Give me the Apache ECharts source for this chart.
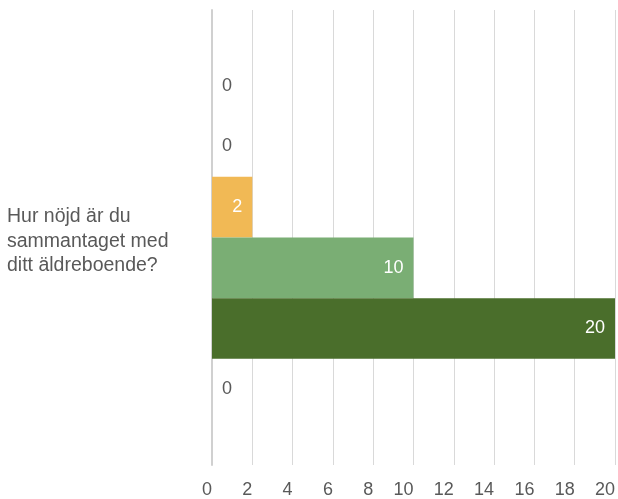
<!DOCTYPE html>
<html>
<head>
<meta charset="utf-8">
<script src="https://cdn.jsdelivr.net/npm/echarts@6/dist/echarts.min.js"></script>
<style>html,body{margin:0;padding:0;background:#fff;overflow:hidden}#c{width:618px;height:499px}</style>
</head>
<body>
<div id="c"></div>
<script>
const categories = ["Hur nöjd är du\nsammantaget med\nditt äldreboende?"];
const seriesNames = ["S1", "S2", "S3", "S4", "S5", "S6"];
const seriesValues = [[0], [0], [2], [10], [20], [0]];
const seriesColors = ["#4472C4", "#ED7D31", "#F1B955", "#7AAE74", "#4A6E2B", "#A5A5A5"];
const xTicks = [0, 2, 4, 6, 8, 10, 12, 14, 16, 18, 20];

const chart = echarts.init(document.getElementById('c'), null, {renderer: 'canvas', width: 618, height: 499});
const font = 'Liberation Sans, Arial, sans-serif';
const series = seriesNames.map((n, i) => ({
  name: n,
  type: 'bar',
  data: seriesValues[i],
  barGap: '0%',
  barCategoryGap: '20%',
  itemStyle: {color: seriesColors[i]},
  label: {
    show: true,
    position: seriesValues[i][0] === 0 ? 'right' : 'insideRight',
    distance: 10,
    color: seriesValues[i][0] === 0 ? '#595959' : '#ffffff',
    fontSize: 18,
    fontFamily: font
  }
}));
chart.setOption({
  animation: false,
  grid: {left: 212, right: 0, top: 10, bottom: 32, containLabel: false},
  xAxis: {
    type: 'value',
    min: xTicks[0],
    max: xTicks[xTicks.length - 1],
    interval: 2,
    axisLine: {show: false},
    axisTick: {show: false},
    splitLine: {lineStyle: {color: '#d9d9d9', width: 1}},
    axisLabel: {color: '#595959', fontSize: 18, fontFamily: font, align: 'right', margin: 16}
  },
  yAxis: {
    type: 'category',
    inverse: true,
    data: categories,
    axisLine: {show: true, lineStyle: {color: '#d0d0d0', width: 2}},
    axisTick: {show: false},
    axisLabel: {
      color: '#595959', fontSize: 19.5, fontFamily: font, align: 'left', margin: 205, lineHeight: 24.5,
      formatter: v => '{p|}\n' + v.split('\n').map(s => '{t|' + s + '}').join('\n'),
      rich: {
        p: {lineHeight: 8, fontSize: 1},
        t: {color: '#595959', fontSize: 19.5, fontFamily: font, lineHeight: 24.5}
      }
    }
  },
  series: series
});
</script>
</body>
</html>
